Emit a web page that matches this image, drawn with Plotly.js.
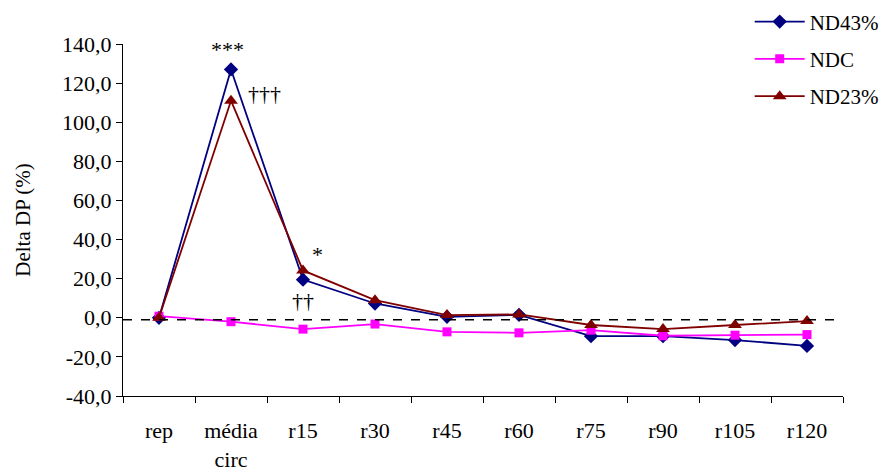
<!DOCTYPE html>
<html>
<head>
<meta charset="utf-8">
<script src="https://cdn.plot.ly/plotly-3.0.1.min.js"></script>
<style>
  html, body { margin: 0; padding: 0; background: #fff; }
  #chart { width: 882px; height: 474px; }
</style>
</head>
<body>
<div id="chart"></div>
<script>
// Time points of the protocol
const categories = ["rep", "média<br>circ", "r15", "r30", "r45", "r60", "r75", "r90", "r105", "r120"];

// Delta DP (%) for each group
const nd43 = [0.0, 127.0, 19.5, 7.3, 0.5, 1.5, -9.4, -9.4, -11.4, -14.4];
const ndc  = [0.8, -2.0, -5.8, -3.2, -7.2, -7.7, -6.3, -9.2, -8.9, -8.6];
const nd23 = [0.0, 111.0, 24.2, 9.0, 1.4, 1.7, -3.7, -5.8, -3.7, -1.7];

// Y axis ticks
const yTickVals = [-40, -20, 0, 20, 40, 60, 80, 100, 120, 140];
const yTickText = ["-40,0", "-20,0", "0,0", "20,0", "40,0", "60,0", "80,0", "100,0", "120,0", "140,0"];

// Reference level drawn as a dashed line
const refLevel = -1;

// Significance marks: [category index, y value, text]
const marks = [
  [1, 137.0, "***"],
  [1, 114.5, "†††"],
  [2, 32.5, "*"],
  [2, 9.0, "††"]
];
const markShift = [-4, 33, 14, 0];

const serif = "Liberation Serif";

const traces = [
  {
    x: categories, y: nd43, name: "ND43%", legendgroup: "a", type: "scatter", mode: "lines+markers",
    line: { color: "#000080", width: 1.8 },
    marker: { symbol: "diamond", size: 11, color: "#000080" }
  },
  {
    x: categories, y: ndc, name: "NDC", legendgroup: "b", type: "scatter", mode: "lines+markers",
    line: { color: "#FF00FF", width: 1.8 },
    marker: { symbol: "square", size: 9, color: "#FF00FF" }
  },
  {
    x: categories, y: nd23, name: "ND23%", legendgroup: "c", type: "scatter", mode: "lines+markers",
    line: { color: "#800000", width: 1.8 },
    marker: { symbol: "triangle-up", size: 12, color: "#800000" }
  }
];

const layout = {
  width: 882,
  height: 474,
  margin: { l: 123, r: 39, t: 44, b: 78, autoexpand: false },
  paper_bgcolor: "#fff",
  plot_bgcolor: "#fff",
  font: { family: serif, size: 21, color: "#000" },
  showlegend: true,
  legend: {
    xref: "container", yref: "container",
    x: 0.85, y: 0.997, xanchor: "left", yanchor: "top",
    bgcolor: "rgba(0,0,0,0)",
    font: { family: serif, size: 21, color: "#000" },
    traceorder: "grouped",
    tracegroupgap: 7, itemwidth: 50
  },
  xaxis: {
    type: "category",
    range: [-0.5, 9.5],
    showgrid: false, zeroline: false,
    showline: true, linecolor: "#000", linewidth: 1,
    ticks: "outside", ticklen: 6, tickcolor: "#000", tickson: "boundaries",
    tickfont: { family: serif, size: 22, color: "#000" },
    ticklabelstandoff: 15,
    fixedrange: true
  },
  yaxis: {
    range: [-40, 140],
    tickvals: yTickVals, ticktext: yTickText,
    showgrid: false, zeroline: false,
    showline: true, linecolor: "#000", linewidth: 1,
    ticks: "outside", ticklen: 6, tickcolor: "#000",
    tickfont: { family: serif, size: 22, color: "#000" },
    title: { text: "Delta DP (%)", font: { family: serif, size: 21 }, standoff: 25 },
    fixedrange: true
  },
  shapes: [{
    type: "line", xref: "paper", x0: 0, x1: 1, yref: "y", y0: refLevel, y1: refLevel,
    line: { color: "#000", width: 1.5, dash: "dash" }
  }],
  annotations: marks.map((m, i) => ({
    x: categories[m[0]], y: m[1], xref: "x", yref: "y",
    text: m[2], showarrow: false, xshift: markShift[i],
    font: { family: serif, size: 22, color: "#000" }
  }))
};

Plotly.newPlot("chart", traces, layout, { staticPlot: true, displayModeBar: false });
</script>
</body>
</html>
